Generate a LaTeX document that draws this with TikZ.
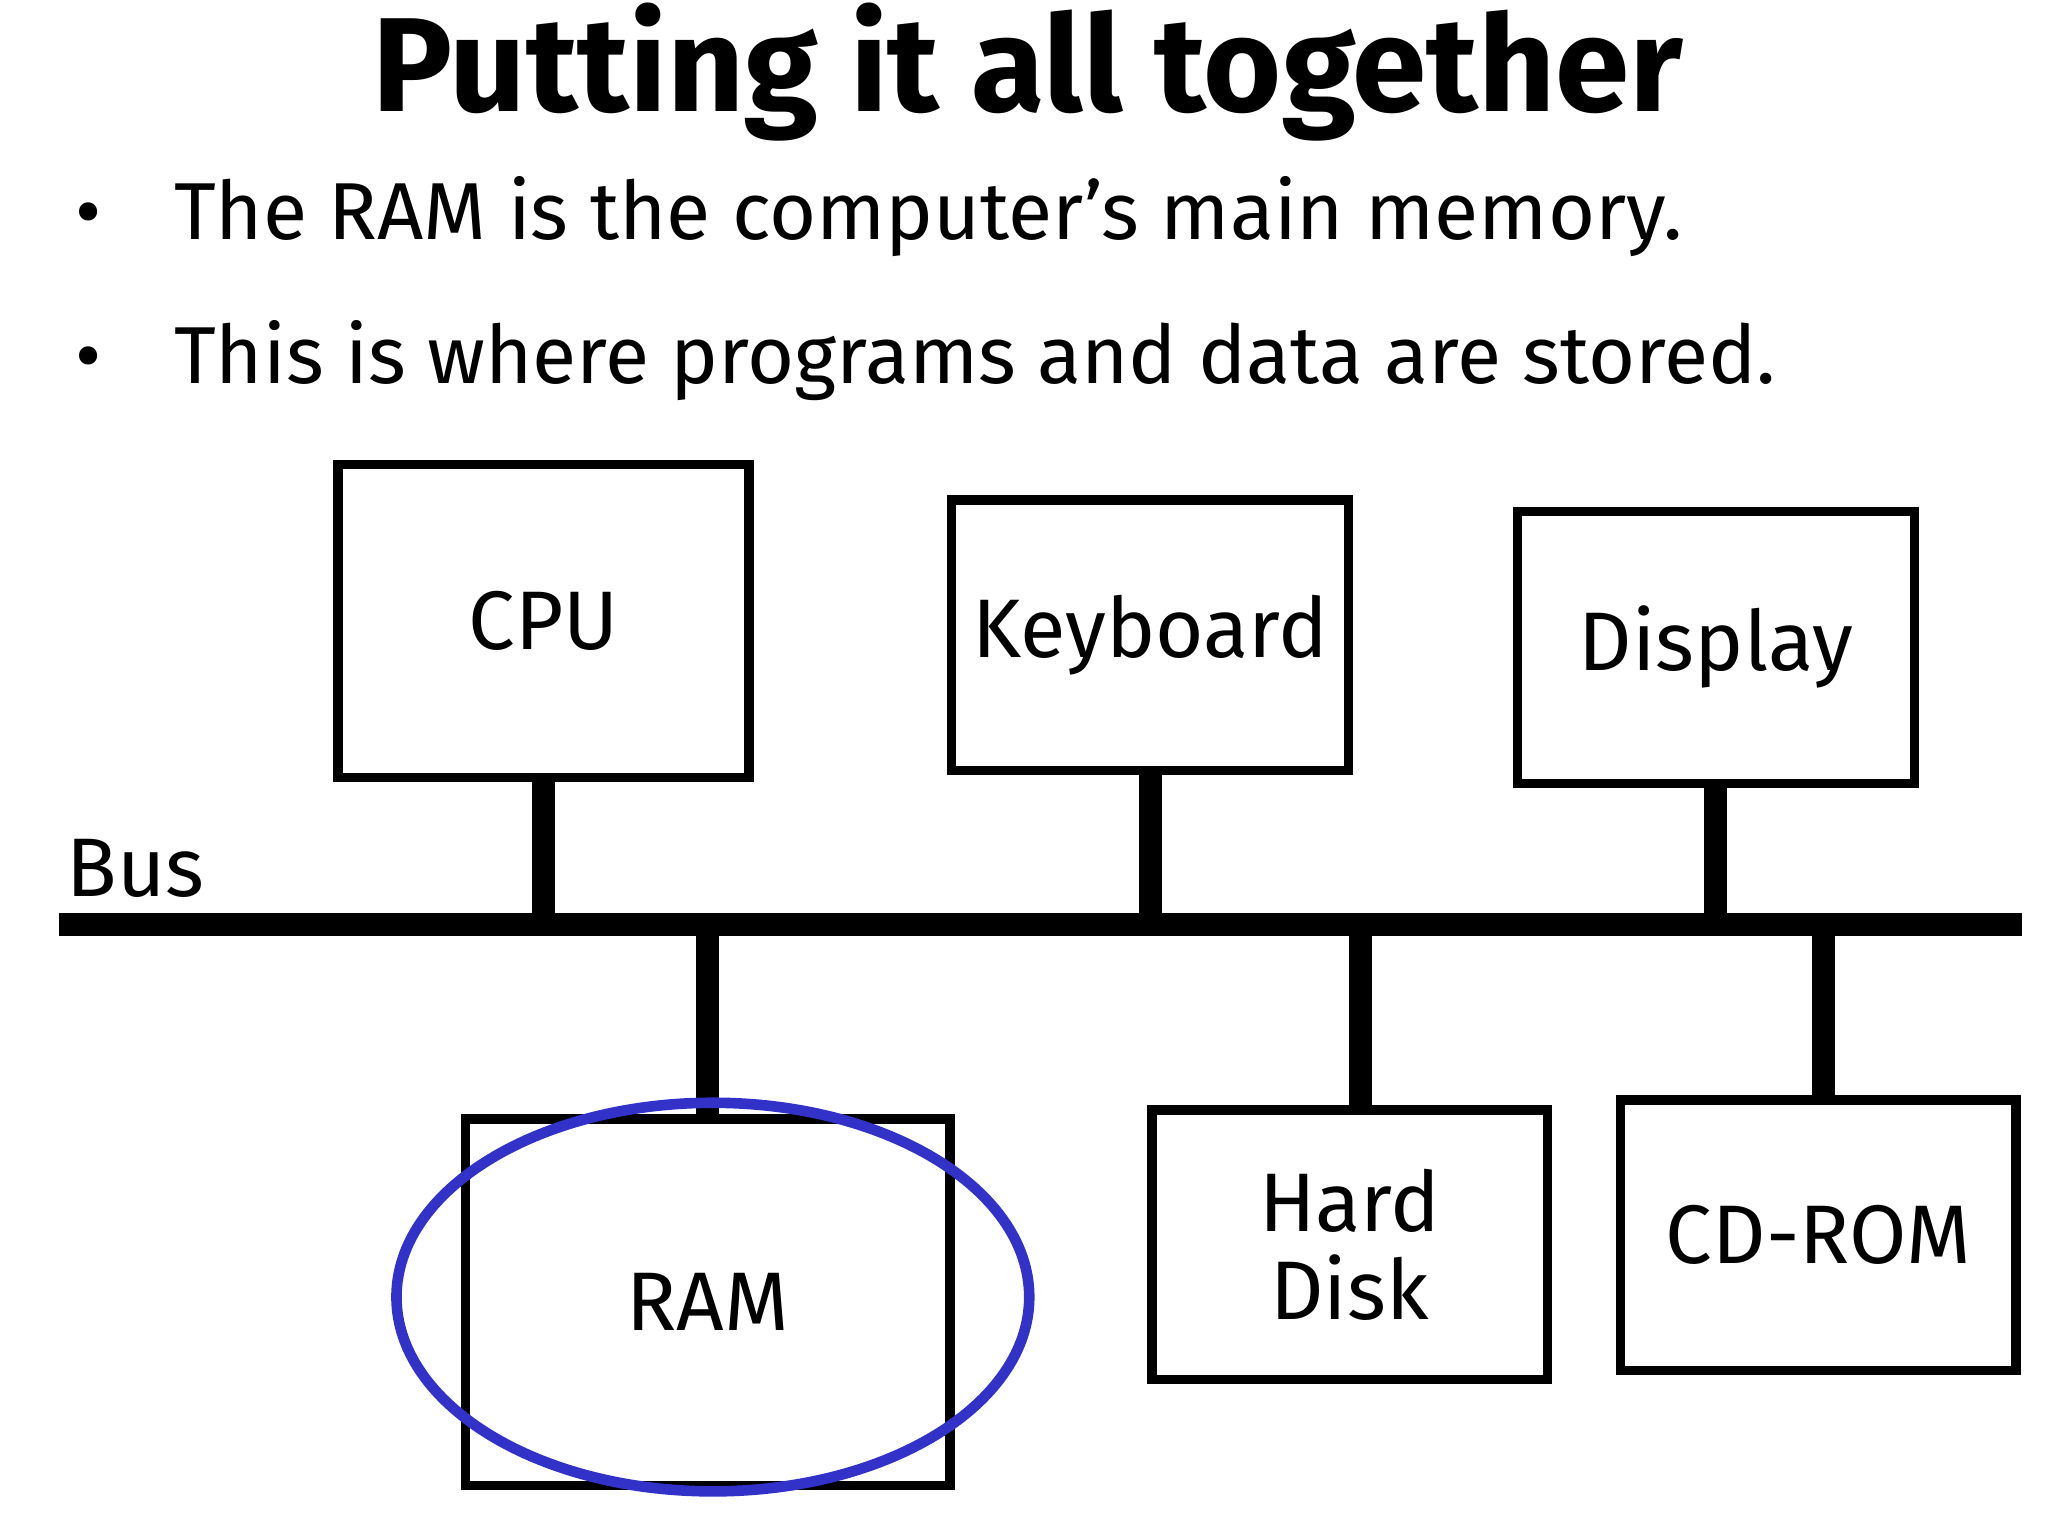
\documentclass[tikz,border=0pt]{standalone}
\usepackage{fontspec}
\setmainfont{Fira Sans}
\begin{document}
\begin{tikzpicture}[x=0.01cm,y=-0.01cm,
 box/.style={draw,line width=2pt,inner sep=0pt,outer sep=0pt,font=\fontsize{18}{21}\selectfont,align=center},
 bus/.style={line width=5pt},
 stem/.style={line width=5pt}]
\useasboundingbox (0,0) rectangle (1560,1170);
\node[font=\fontsize{29}{34}\selectfont\bfseries] (title) at (783,55) {Putting it all together};
\node[anchor=west,font=\fontsize{17.5}{21}\selectfont] (b1) at (45,165) {\textbullet\hspace{0.9em}The RAM is the computer's main memory.};
\node[anchor=west,font=\fontsize{17.5}{21}\selectfont] (b2) at (45,275) {\textbullet\hspace{0.9em}This is where programs and data are stored.};
\node[box,minimum width=3.13cm,minimum height=2.38cm] (cpu) at (414,473) {CPU};
\node[box,minimum width=3.02cm,minimum height=2.06cm] (kb) at (876,484) {Keyboard};
\node[box,minimum width=3.02cm,minimum height=2.07cm] (disp) at (1307,493) {Display};
\node[box,minimum width=3.69cm,minimum height=2.79cm] (ram) at (539,992) {RAM};
\node[box,minimum width=3.01cm,minimum height=2.05cm] (hd) at (1028,948) {Hard\\[-2pt]Disk};
\node[box,minimum width=3.01cm,minimum height=2.06cm] (cd) at (1385,941) {CD-ROM};
\coordinate (bl) at (45,704);
\coordinate (br) at (1540,704);
\draw[bus] (bl) -- (br);
\node[anchor=south west,font=\fontsize{18}{21}\selectfont,inner sep=0pt] (buslbl) at (50,684) {Bus};
\draw[stem] (cpu.south) -- (cpu.south |- bl);
\draw[stem] (kb.south) -- (kb.south |- bl);
\draw[stem] (disp.south) -- (disp.south |- bl);
\draw[stem] (ram.north) -- (ram.north |- bl);
\draw[stem] ([xshift=0.08cm]hd.north) -- ([xshift=0.08cm]hd.north |- bl);
\draw[stem] ([xshift=0.04cm]cd.north) -- ([xshift=0.04cm]cd.north |- bl);
\definecolor{ovalblue}{RGB}{50,50,200}
\draw[ovalblue,line width=2.3pt] (543,988) ellipse [x radius=241,y radius=148];
\end{tikzpicture}
\end{document}
